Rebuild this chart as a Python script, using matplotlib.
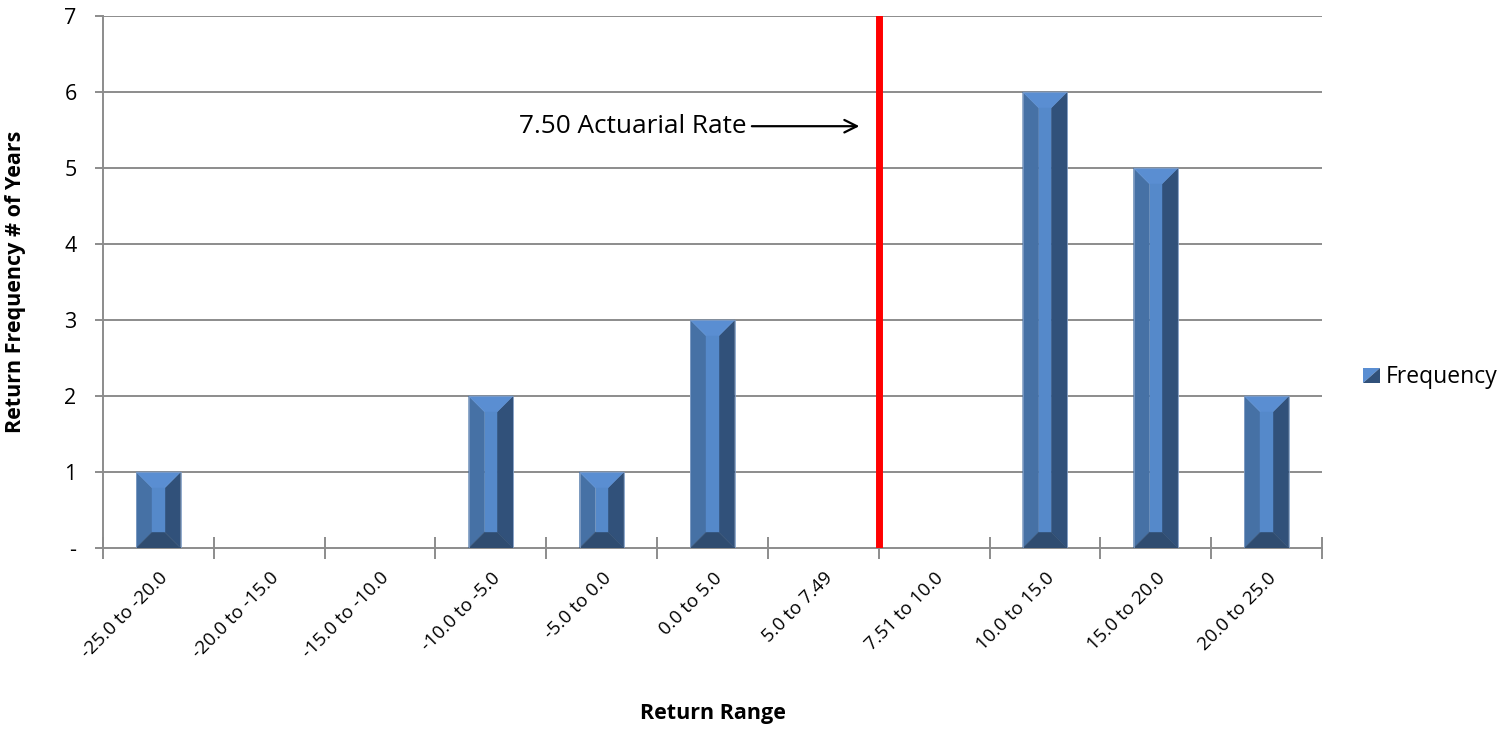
import matplotlib
matplotlib.use("Agg")
import matplotlib.pyplot as plt
from matplotlib.patches import Polygon, Rectangle
import numpy as np

categories = ["-25.0 to -20.0", "-20.0 to -15.0", "-15.0 to -10.0", "-10.0 to -5.0",
              "-5.0 to 0.0", "0.0 to 5.0", "5.0 to 7.49", "7.51 to 10.0",
              "10.0 to 15.0", "15.0 to 20.0", "20.0 to 25.0"]
frequency = [1, 0, 0, 2, 1, 3, 0, 0, 6, 5, 2]
ytick_values = [0, 1, 2, 3, 4, 5, 6, 7]
ytick_labels = ["-", "1", "2", "3", "4", "5", "6", "7"]
actuarial_position = 6.5   # boundary between "5.0 to 7.49" and "7.51 to 10.0"
annotation_y = 5.55

plt.rcParams["font.family"] = ["Open Sans", "DejaVu Sans"]

W, H, DPI = 1511, 730, 100
fig = plt.figure(figsize=(W / DPI, H / DPI), dpi=DPI)
ax = fig.add_axes([103 / W, 1 - 548 / H, (1322 - 103) / W, (548 - 16) / H])

n = len(categories)
ax.set_xlim(-0.5, n - 0.5)
ax.set_ylim(0, 7)

grid_col = "#8c8c8c"
for v in ytick_values[1:]:
    ax.axhline(v, color=grid_col, lw=1.4, zorder=1)

for s in ["top", "right"]:
    ax.spines[s].set_visible(False)
for s in ["left", "bottom"]:
    ax.spines[s].set_color(grid_col)
    ax.spines[s].set_linewidth(1.4)

ax.set_yticks(ytick_values)
ax.set_yticklabels(ytick_labels, fontsize=15.5)
ax.tick_params(axis="y", direction="out", length=6, width=1.4, color=grid_col, pad=13)

ax.set_xticks(np.arange(n))
ax.set_xticklabels(categories, rotation=45, ha="right", rotation_mode="anchor", fontsize=13.5)
ax.tick_params(axis="x", length=0, pad=15)
ax.set_xticks(np.arange(n + 1) - 0.5, minor=True)
ax.tick_params(axis="x", which="minor", direction="inout", length=16, width=1.4, color=grid_col)

# beveled bars
px_x = n / (1322 - 103)          # data units per pixel horizontally
px_y = 7 / (548 - 16)            # data units per pixel vertically
bev = 16
bw = 0.4
c_left, c_mid, c_right = "#4671A5", "#5589CA", "#31517A"
c_top, c_bot = "#5A8ED2", "#2F4C70"
for i, h in enumerate(frequency):
    if h <= 0:
        continue
    x0, x1 = i - bw / 2, i + bw / 2
    bx = bev * px_x
    by = min(bev * px_y, h / 2)
    xi0, xi1 = x0 + bx, x1 - bx
    faces = [
        ([(x0, 0), (xi0, by), (xi0, h - by), (x0, h)], c_left),
        ([(x1, 0), (xi1, by), (xi1, h - by), (x1, h)], c_right),
        ([(x0, h), (x1, h), (xi1, h - by), (xi0, h - by)], c_top),
        ([(x0, 0), (x1, 0), (xi1, by), (xi0, by)], c_bot),
        ([(xi0, by), (xi1, by), (xi1, h - by), (xi0, h - by)], c_mid),
    ]
    for pts, col in faces:
        ax.add_patch(Polygon(pts, closed=True, facecolor=col, edgecolor=col, lw=0.3, zorder=3))
    ax.add_patch(Rectangle((x0, 0), bw, h, fill=False, edgecolor="#7f9cc4", lw=0.6, zorder=4))

# actuarial rate marker
ax.axvline(actuarial_position, color="#ff0000", lw=5, zorder=5)
ax.annotate("", xy=(actuarial_position - 0.15, annotation_y),
            xytext=(actuarial_position - 1.17, annotation_y),
            arrowprops=dict(arrowstyle="->,head_length=0.9,head_width=0.45", color="black", lw=1.6),
            zorder=6)
ax.text(actuarial_position - 1.19, annotation_y, "7.50 Actuarial Rate", ha="right", va="center",
        fontsize=18.8, zorder=6)

ax.set_xlabel("Return Range", fontsize=15.5, fontweight="bold")
ax.xaxis.set_label_coords(0.5, (548 - 703) / 532)
ax.set_ylabel("Return Frequency # of Years", fontsize=15.5, fontweight="bold")
ax.yaxis.set_label_coords((26 - 103) / 1219, 0.5)

# legend key: diagonally shaded square plus label
lx0, lx1, ly0, ly1 = 1363 / W, 1380 / W, 1 - 383 / H, 1 - 368 / H
fig.patches.append(Polygon([(lx0, ly1), (lx1, ly1), (lx0, ly0)], closed=True,
                           transform=fig.transFigure, facecolor="#5A8ED2", edgecolor="none"))
fig.patches.append(Polygon([(lx1, ly1), (lx1, ly0), (lx0, ly0)], closed=True,
                           transform=fig.transFigure, facecolor="#31517A", edgecolor="none"))
fig.text(1386 / W, 1 - 383 / H, "Frequency", fontsize=16.5, va="baseline", ha="left")

fig.savefig("out.png", dpi=DPI)
